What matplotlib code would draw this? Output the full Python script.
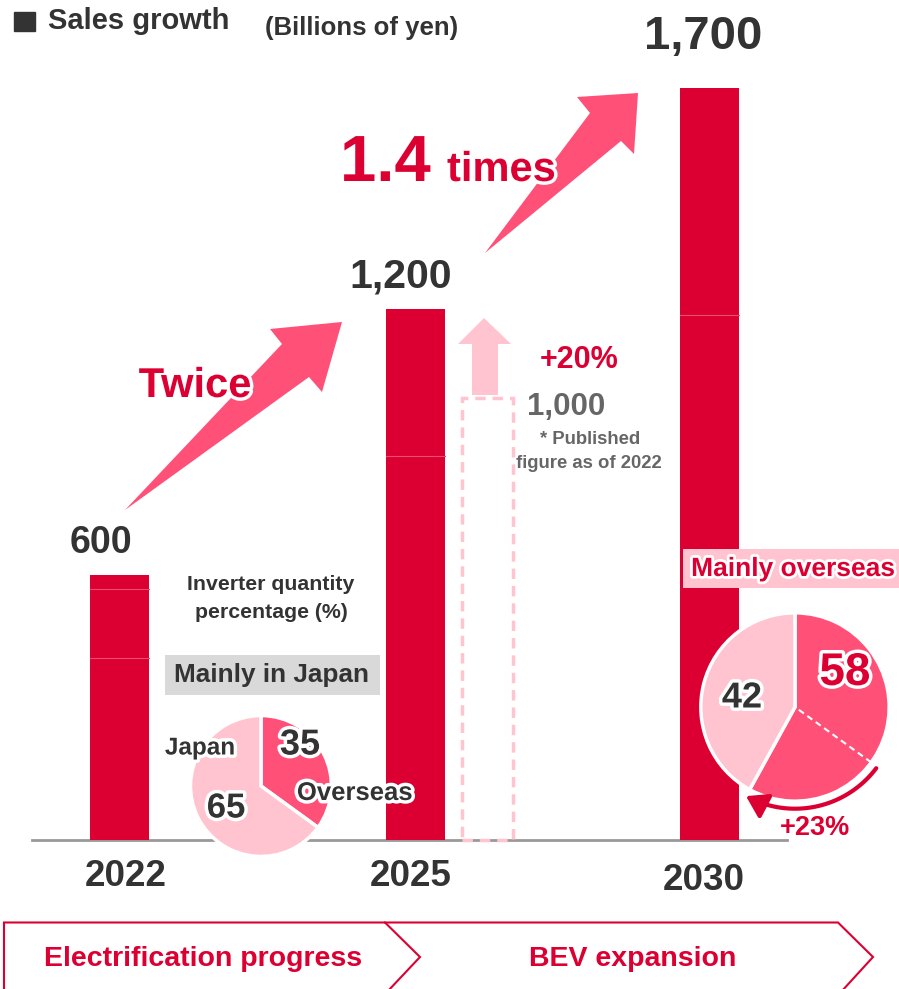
import numpy as np
import matplotlib
matplotlib.use('Agg')
import matplotlib.pyplot as plt
import matplotlib.patheffects as pe
from matplotlib.patches import Polygon, Rectangle, FancyArrowPatch
from matplotlib.path import Path

plt.rcParams['font.family'] = ['Liberation Sans', 'DejaVu Sans']
plt.rcParams['font.weight'] = 'bold'

# data
years = ['2022', '2025', '2030']
sales = [600, 1200, 1700]                 # billions of yen
sales_labels = ['600', '1,200', '1,700']
published_2025 = 1000                     # published figure as of 2022
segments = [[411, 567], [868], [1187]]    # faint inner lines of the bars
share_2022 = [35, 65]                     # overseas, japan
share_2030 = [58, 42]

RED = '#dc0032'
PINK = '#ff5078'
LIGHT = '#ffc4d0'
DARK = '#333333'
GRAY = '#666666'

W, H = 899, 989
S = 0.4424          # px per billion
BASE = 840          # baseline pixel row
xpos = [119.5, 415, 709.5]

fig = plt.figure(figsize=(W / 100, H / 100), dpi=100)

# bars
ax = fig.add_axes([0, 0, 1, 1])
ax.set_xlim(0, W)
ax.set_ylim(-(H - BASE) / S, BASE / S)
ax.axis('off')
ax.bar(xpos, sales, width=59, color=RED, zorder=2)
for x, segs in zip(xpos, segments):
    for v in segs:
        ax.plot([x - 29.5, x + 29.5], [v, v], color='#ee4a72', lw=0.8, zorder=3)
ax.bar(487, published_2025, width=51, fill=False, edgecolor=LIGHT,
       linestyle=(0, (3, 2)), lw=2.5, zorder=2)
ax.plot([32, 787], [0, 0], color='#999999', lw=2, zorder=1)

# pies
def pie_axes(cx, cy, r):
    a = fig.add_axes([(cx - r) / W, (H - cy - r) / H, 2 * r / W, 2 * r / H])
    a.axis('off')
    return a

p1 = pie_axes(261, 786, 74)
p1.pie(share_2022, colors=[PINK, LIGHT], startangle=90, counterclock=False,
       radius=1, wedgeprops=dict(edgecolor='white', linewidth=2.5))
p1.set_xlim(-1.05, 1.05); p1.set_ylim(-1.05, 1.05)

p2 = pie_axes(795, 707, 97)
p2.pie(share_2030, colors=[PINK, LIGHT], startangle=90, counterclock=False,
       radius=1, wedgeprops=dict(edgecolor='white', linewidth=2.5))
p2.set_xlim(-1.03, 1.03); p2.set_ylim(-1.03, 1.03)
a_old = np.deg2rad(90 - 3.6 * share_2022[0])
a_new = np.deg2rad(90 - 3.6 * share_2030[0])
p2.plot([0.05 * np.cos(a_old), np.cos(a_old)], [0.05 * np.sin(a_old), np.sin(a_old)],
        color='white', lw=1.5, ls=(0, (3, 2)))
t = np.linspace(a_old - np.deg2rad(1), a_new, 40)
arc = FancyArrowPatch(path=Path(np.column_stack([1.08 * np.cos(t), 1.08 * np.sin(t)])),
                      arrowstyle='-|>,head_length=0.7,head_width=0.45',
                      mutation_scale=18, lw=3, color=RED, clip_on=False)
p2.add_patch(arc)

# overlay in pixel coordinates
ov = fig.add_axes([0, 0, 1, 1])
ov.set_xlim(0, W)
ov.set_ylim(H, 0)
ov.axis('off')
ov.patch.set_alpha(0)

glow = [pe.withStroke(linewidth=5, foreground='white')]

ov.add_patch(Rectangle((14, 12), 21, 19, color=DARK))
ov.text(48, 21, 'Sales growth', fontsize=21, color=DARK, va='center', ha='left')
ov.text(265, 28, '(Billions of yen)', fontsize=18.5, color=DARK, va='center', ha='left')

label_x = [101, 401, 703]
label_y = [543, 277, 37]
label_fs = [27, 29.5, 34]
for x, lab, y, fs in zip(label_x, sales_labels, label_y, label_fs):
    ov.text(x, y, lab, fontsize=fs, color=DARK, ha='center', va='center')

for x, yr, y in zip([126, 411, 704], years, [877, 877, 880]):
    ov.text(x, y, yr, fontsize=26.5, color=DARK, ha='center', va='center')

# growth arrows
arrow1 = [(125, 510), (282, 344), (270, 329), (342, 322), (322, 392), (309, 377)]
arrow2 = [(485, 253), (590, 113), (577, 97), (638, 93), (634, 154), (621, 141)]
for pts in (arrow1, arrow2):
    ov.add_patch(Polygon(pts, closed=True, color=PINK, lw=0))

ov.text(195, 386, 'Twice', fontsize=30, color=RED, ha='center', va='center',
        path_effects=glow)
ov.text(340, 181, '1.4', fontsize=47, color=RED, ha='left', va='baseline',
        path_effects=glow)
ov.text(447, 181, 'times', fontsize=30, color=RED, ha='left', va='baseline',
        path_effects=glow)

# published figure
ov.add_patch(Polygon([(472, 395), (472, 344), (458, 344), (484, 318),
                      (511, 344), (498, 344), (498, 395)], closed=True,
                     color=LIGHT, lw=0))
ov.text(579, 360, '+20%', fontsize=22, color=RED, ha='center', va='center')
ov.text(566, 407, '1,000', fontsize=22.5, color=GRAY, ha='center', va='center')
ov.text(590, 440, '* Published', fontsize=13.3, color=GRAY, ha='center', va='center')
ov.text(589, 463, 'figure as of 2022', fontsize=13.3, color=GRAY, ha='center', va='center')

# 2022 pie labels
ov.text(271, 584, 'Inverter quantity', fontsize=15.3, color=DARK, ha='center', va='center')
ov.text(271, 612, 'percentage (%)', fontsize=15.3, color=DARK, ha='center', va='center')
ov.add_patch(Rectangle((165, 655), 215, 40, color='#d9d9d9', lw=0))
ov.text(272, 675, 'Mainly in Japan', fontsize=18.8, color=DARK, ha='center', va='center')
ov.text(200, 748, 'Japan', fontsize=17.5, color=DARK, ha='center', va='center',
        path_effects=glow)
ov.text(300, 745, str(share_2022[0]), fontsize=26, color=DARK, ha='center',
        va='center', path_effects=glow)
ov.text(226, 808, str(share_2022[1]), fontsize=25, color=DARK, ha='center',
        va='center', path_effects=glow)
ov.text(355, 793, 'Overseas', fontsize=18.5, color=DARK, ha='center', va='center',
        path_effects=glow)

# 2030 pie labels
ov.add_patch(Rectangle((683, 549), 220, 39, color=LIGHT, lw=0))
ov.text(793, 569, 'Mainly overseas', fontsize=19, color=RED, ha='center', va='center',
        path_effects=[pe.withStroke(linewidth=4, foreground='white')])
ov.text(845, 673, str(share_2030[0]), fontsize=33, color=RED, ha='center',
        va='center', path_effects=glow)
ov.text(742, 698, str(share_2030[1]), fontsize=26, color=DARK, ha='center',
        va='center', path_effects=glow)
ov.text(815, 828, '+%d%%' % (share_2030[0] - share_2022[0]), fontsize=19.5,
        color=RED, ha='center', va='center')

# bottom chevron banner
ov.plot([4, 4, 385, 420, 387], [995, 922.5, 922.5, 957, 992], color=RED, lw=1.5,
        solid_joinstyle='miter', clip_on=False)
ov.plot([385, 838, 873, 841], [922.5, 922.5, 957, 992], color=RED, lw=1.5,
        solid_joinstyle='miter', clip_on=False)
ov.text(203, 959, 'Electrification progress', fontsize=20.5, color=RED,
        ha='center', va='center')
ov.text(633, 959, 'BEV expansion', fontsize=20.5, color=RED, ha='center', va='center')

fig.savefig('out.png', dpi=100)
